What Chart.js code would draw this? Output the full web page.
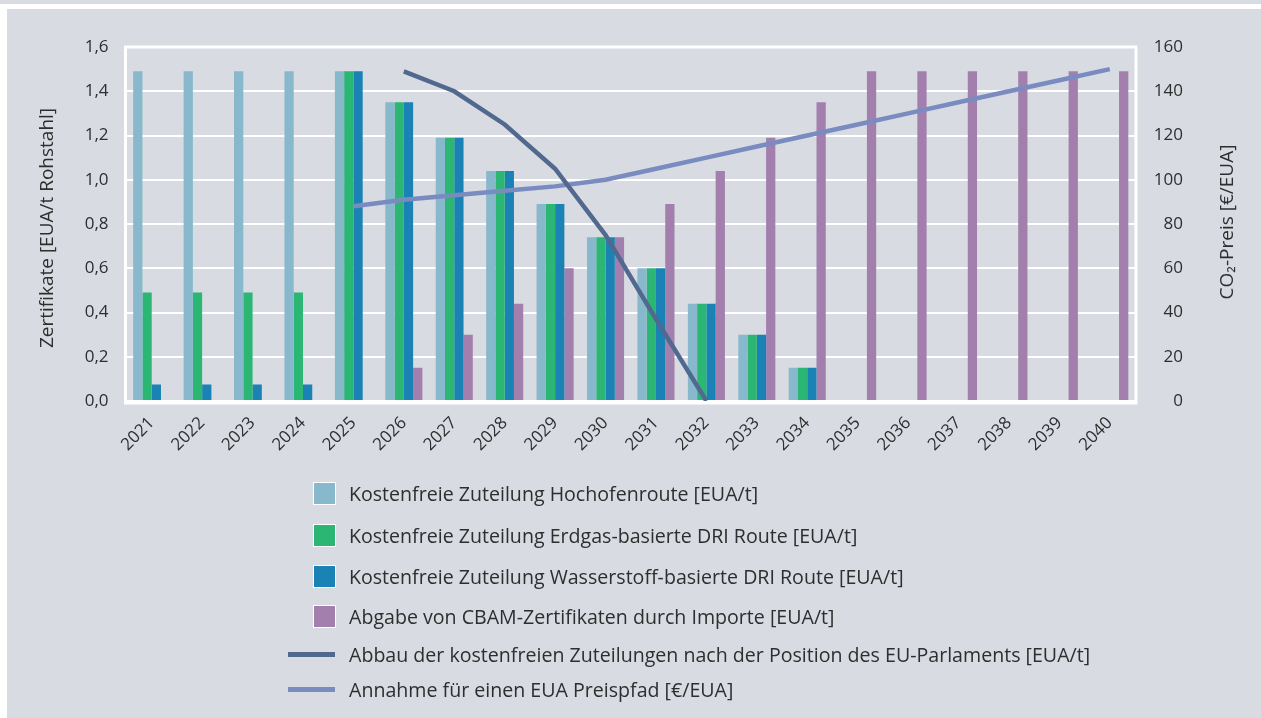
<!DOCTYPE html>
<html lang="de">
<head>
<meta charset="utf-8">
<title>Kostenfreie Zuteilung und CBAM-Zertifikate</title>
<script src="https://cdn.jsdelivr.net/npm/chart.js@4.4.0/dist/chart.umd.min.js"></script>
<style>
  html, body { margin: 0; padding: 0; background: #fff; }
  body { width: 1261px; height: 718px; position: relative; overflow: hidden;
         font-family: 'Open Sans', sans-serif; color: #2e2e2e; }
  .topbar { position: absolute; left: 0; top: 0; width: 1261px; height: 4px; background: #d8dbe2; }
  .panel { position: absolute; left: 7px; top: 9px; right: 0; bottom: 0; background: #d8dbe2; }
  #chart { position: absolute; left: 0; top: 0; }
  .item { position: absolute; left: 288px; height: 24px; display: flex; align-items: center;
          font-size: 19.6px; white-space: nowrap; }
  .item .mark { width: 61px; flex: none; display: flex; align-items: center; }
  .item .box { width: 21px; height: 21px; border: 1px solid #fff; margin-left: 25px; }
  .item .line { width: 47px; height: 5px; }
</style>
</head>
<body>
<div class="topbar"></div>
<div class="panel"></div>
<canvas id="chart" width="1261" height="718"></canvas>
<div id="legend"></div>
<script>
// values
const years = ['2021','2022','2023','2024','2025','2026','2027','2028','2029','2030',
               '2031','2032','2033','2034','2035','2036','2037','2038','2039','2040'];
const hochofen    = [1.49, 1.49, 1.49, 1.49, 1.49, 1.35, 1.19, 1.04, 0.89, 0.74, 0.60, 0.44, 0.30, 0.15, null, null, null, null, null, null];
const erdgasDRI   = [0.49, 0.49, 0.49, 0.49, 1.49, 1.35, 1.19, 1.04, 0.89, 0.74, 0.60, 0.44, 0.30, 0.15, null, null, null, null, null, null];
const wasserDRI   = [0.075, 0.075, 0.075, 0.075, 1.49, 1.35, 1.19, 1.04, 0.89, 0.74, 0.60, 0.44, 0.30, 0.15, null, null, null, null, null, null];
const cbamImporte = [null, null, null, null, null, 0.15, 0.30, 0.44, 0.60, 0.74, 0.89, 1.04, 1.19, 1.35, 1.49, 1.49, 1.49, 1.49, 1.49, 1.49];
const abbauEP     = [null, null, null, null, null, 1.49, 1.40, 1.25, 1.05, 0.75, 0.37, 0.00, null, null, null, null, null, null, null, null];
const preisPfad   = [null, null, null, null, 88, 91, 93, 95, 97, 100, 105, 110, 115, 120, 125, 130, 135, 140, 145, 150];
const leftTicks   = [0, 0.2, 0.4, 0.6, 0.8, 1.0, 1.2, 1.4, 1.6];
const rightTicks  = [0, 20, 40, 60, 80, 100, 120, 140, 160];

const labels = [
  'Kostenfreie Zuteilung Hochofenroute [EUA/t]',
  'Kostenfreie Zuteilung Erdgas-basierte DRI Route [EUA/t]',
  'Kostenfreie Zuteilung Wasserstoff-basierte DRI Route [EUA/t]',
  'Abgabe von CBAM-Zertifikaten durch Importe [EUA/t]',
  'Abbau der kostenfreien Zuteilungen nach der Position des EU-Parlaments [EUA/t]',
  'Annahme für einen EUA Preispfad [€/EUA]'
];
const colors = ['#88b8cb', '#2bb673', '#1a82b4', '#a37fae', '#52698f', '#7a8bc0'];

const TEXT = '#2e2e2e';
Chart.defaults.font.family = "'Open Sans', sans-serif";
Chart.defaults.font.size = 17;
Chart.defaults.color = TEXT;

// white frame round the plot area
const plotFrame = {
  id: 'plotFrame',
  beforeDatasetsDraw(chart) {
    const { ctx, chartArea: a } = chart;
    ctx.save();
    ctx.strokeStyle = '#fff';
    ctx.lineWidth = 3;
    ctx.strokeRect(a.left - 1, a.top, a.right - a.left + 2, a.bottom - a.top + 2);
    ctx.restore();
  }
};

// both axis titles read bottom to top
const axisTitles = {
  id: 'axisTitles',
  afterDraw(chart) {
    const { ctx } = chart;
    const draw = (txt, x, y) => {
      ctx.save();
      ctx.translate(x, y);
      ctx.rotate(-Math.PI / 2);
      ctx.font = "19px 'Open Sans', sans-serif";
      ctx.fillStyle = TEXT;
      ctx.textAlign = 'center';
      ctx.textBaseline = 'middle';
      ctx.fillText(txt, 0, 0);
      ctx.restore();
    };
    draw('Zertifikate [EUA/t Rohstahl]', 48, 228);
    draw('CO\u2082-Preis [€/EUA]', 1228, 222);
  }
};

const barSet = (i, data) => ({
  type: 'bar', label: labels[i], data, backgroundColor: colors[i],
  borderWidth: 0, yAxisID: 'y', order: 3,
  barPercentage: 1.0, categoryPercentage: 0.735
});

const chart = new Chart(document.getElementById('chart'), {
  type: 'bar',
  data: {
    labels: years,
    datasets: [
      barSet(0, hochofen),
      barSet(1, erdgasDRI),
      barSet(2, wasserDRI),
      barSet(3, cbamImporte),
      {
        type: 'line', label: labels[4], data: abbauEP, borderColor: colors[4],
        borderWidth: 4.5, pointRadius: 0, fill: false, spanGaps: false,
        yAxisID: 'y', order: 1
      },
      {
        type: 'line', label: labels[5], data: preisPfad,
        borderColor: colors[5], borderWidth: 4.5, pointRadius: 0, fill: false,
        yAxisID: 'y2', order: 2
      }
    ]
  },
  options: {
    responsive: false,
    animation: false,
    layout: { padding: { top: 47, left: 0, right: 78, bottom: 0 } },
    plugins: { legend: { display: false }, tooltip: { enabled: false } },
    scales: {
      x: {
        type: 'category', offset: true,
        grid: { display: false }, border: { display: false },
        ticks: { maxRotation: 45, minRotation: 45, padding: 4, autoSkip: false },
        afterFit(s) { s.height = 317; }
      },
      y: {
        position: 'left', min: 0, max: 1.6,
        grid: { color: '#fff', lineWidth: 2, drawTicks: false },
        border: { display: false },
        afterBuildTicks(s) { s.ticks = leftTicks.map(v => ({ value: v })); },
        ticks: { padding: 18, callback: v => Number(v).toFixed(1).replace('.', ',') },
        afterFit(s) { s.width = 126.5; }
      },
      y2: {
        position: 'right', min: 0, max: 160,
        grid: { display: false, drawTicks: false },
        border: { display: false },
        afterBuildTicks(s) { s.ticks = rightTicks.map(v => ({ value: v })); },
        ticks: { padding: 17, crossAlign: 'far' },
        afterFit(s) { s.width = 48; }
      }
    }
  },
  plugins: [plotFrame, axisTitles]
});

// legend in one column below the chart
const rowTops = [481, 523, 564, 604, 642, 677];
const legend = document.getElementById('legend');
labels.forEach((txt, i) => {
  const row = document.createElement('div');
  row.className = 'item';
  row.style.top = rowTops[i] + 'px';
  const mark = document.createElement('div');
  mark.className = 'mark';
  const sw = document.createElement('div');
  sw.className = i < 4 ? 'box' : 'line';
  sw.style.background = colors[i];
  mark.appendChild(sw);
  const span = document.createElement('span');
  span.textContent = txt;
  row.appendChild(mark);
  row.appendChild(span);
  legend.appendChild(row);
});
</script>
</body>
</html>
